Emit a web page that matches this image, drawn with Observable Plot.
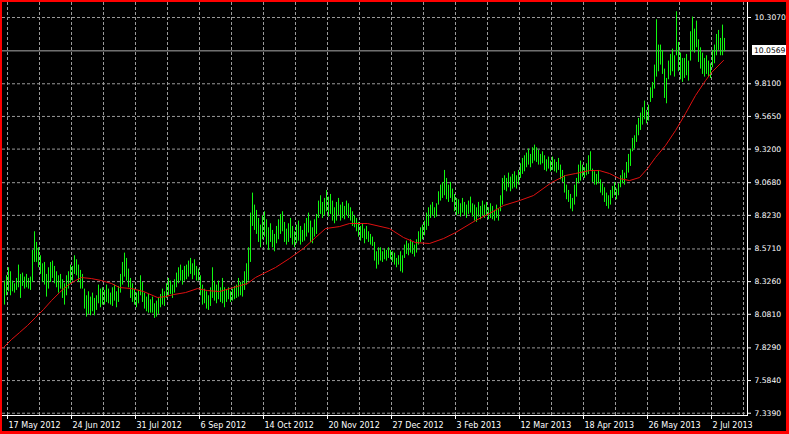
<!DOCTYPE html>
<html>
<head>
<meta charset="utf-8">
<script src="https://cdn.jsdelivr.net/npm/d3@7"></script>
<script src="https://cdn.jsdelivr.net/npm/@observablehq/plot@0.6"></script>
<style>
  html, body { margin: 0; padding: 0; background: #000; }
  #wrap { position: relative; width: 789px; height: 434px; overflow: hidden; background: #000; }
  #border { position: absolute; left: 0; top: 0; width: 789px; height: 434px; box-sizing: border-box;
            border-style: solid; border-color: #ff0000; border-width: 2px 3px 3px 2px; pointer-events: none; }
</style>
</head>
<body>
<div id="wrap"><div id="border"></div></div>
<script>
// ---- data (daily bars) ----
const highs = [
8.33,8.37,8.43,8.40,8.33,8.31,8.35,8.45,8.38,8.39,
8.36,8.38,8.35,8.36,8.56,8.70,8.62,8.58,8.52,8.46,
8.47,8.38,8.43,8.47,8.48,8.44,8.40,8.37,8.38,8.34,
8.31,8.37,8.40,8.45,8.44,8.52,8.49,8.45,8.41,8.38,
8.27,8.22,8.25,8.21,8.24,8.20,8.22,8.30,8.27,8.28,
8.26,8.30,8.27,8.24,8.28,8.30,8.25,8.29,8.38,8.47,
8.54,8.50,8.42,8.35,8.31,8.27,8.24,8.26,8.37,8.32,
8.24,8.21,8.23,8.19,8.21,8.16,8.18,8.20,8.23,8.27,
8.25,8.31,8.35,8.33,8.30,8.34,8.39,8.43,8.45,8.41,
8.44,8.45,8.48,8.50,8.46,8.49,8.44,8.42,8.37,8.30,
8.27,8.25,8.22,8.28,8.43,8.33,8.30,8.33,8.28,8.35,
8.28,8.26,8.28,8.25,8.27,8.29,8.30,8.35,8.32,8.33,
8.40,8.46,8.58,8.84,8.99,8.90,8.86,8.80,8.75,8.82,
8.85,8.79,8.73,8.76,8.71,8.68,8.74,8.79,8.83,8.85,
8.77,8.72,8.76,8.80,8.74,8.70,8.75,8.78,8.74,8.71,
8.76,8.80,8.84,8.78,8.73,8.79,8.83,8.93,8.97,8.92,
8.95,9.01,8.96,8.98,8.93,8.88,8.92,8.95,8.90,8.92,
8.89,8.93,8.91,8.88,8.85,8.82,8.80,8.77,8.74,8.76,
8.72,8.74,8.70,8.68,8.66,8.62,8.55,8.58,8.58,8.55,
8.57,8.56,8.58,8.56,8.55,8.54,8.50,8.52,8.55,8.52,
8.60,8.63,8.61,8.64,8.62,8.60,8.64,8.70,8.73,8.75,
8.78,8.84,8.88,8.90,8.92,8.88,8.91,9.00,9.05,9.07,
9.16,9.10,9.05,9.07,9.02,8.98,8.95,8.94,8.91,8.95,
8.92,8.90,8.93,8.96,8.91,8.90,8.88,8.92,8.89,8.93,
8.90,8.92,8.88,8.91,8.89,8.86,8.90,8.87,8.97,9.10,
9.12,9.10,9.14,9.11,9.13,9.15,9.12,9.16,9.21,9.25,
9.27,9.29,9.32,9.28,9.33,9.35,9.33,9.31,9.28,9.30,
9.27,9.24,9.26,9.23,9.26,9.24,9.22,9.25,9.20,9.16,
9.12,9.05,9.01,8.98,8.95,9.05,9.10,9.20,9.23,9.20,
9.18,9.21,9.27,9.30,9.17,9.15,9.13,9.16,9.09,9.06,
9.03,8.99,8.97,9.01,9.04,9.07,9.02,9.06,9.12,9.16,
9.14,9.22,9.28,9.32,9.40,9.42,9.50,9.55,9.59,9.63,
9.68,9.61,9.65,9.78,9.82,9.95,10.29,10.10,10.10,10.06,
9.92,9.85,9.98,10.03,10.07,10.02,10.35,10.12,10.04,10.00,
10.00,10.03,9.98,10.20,10.31,10.22,10.28,10.14,10.08,10.04,
10.00,10.02,9.98,9.96,10.06,10.10,10.18,10.21,10.15,10.25,
10.15];
const lows = [
8.15,8.22,8.25,8.22,8.25,8.24,8.26,8.28,8.20,8.29,
8.27,8.28,8.27,8.26,8.32,8.47,8.47,8.43,8.38,8.32,
8.30,8.21,8.27,8.32,8.35,8.31,8.28,8.24,8.27,8.20,
8.15,8.22,8.27,8.31,8.33,8.38,8.37,8.32,8.27,8.27,
8.12,8.06,8.08,8.07,8.10,8.07,8.11,8.16,8.13,8.15,
8.15,8.17,8.16,8.15,8.14,8.18,8.13,8.17,8.24,8.30,
8.36,8.33,8.28,8.20,8.17,8.15,8.13,8.16,8.22,8.17,
8.12,8.10,8.09,8.09,8.09,8.05,8.06,8.08,8.13,8.15,
8.14,8.20,8.22,8.23,8.20,8.24,8.28,8.31,8.33,8.30,
8.33,8.34,8.36,8.38,8.34,8.37,8.33,8.33,8.22,8.15,
8.16,8.12,8.11,8.14,8.20,8.18,8.16,8.19,8.17,8.16,
8.13,8.17,8.19,8.17,8.18,8.19,8.20,8.21,8.22,8.21,
8.26,8.30,8.33,8.47,8.74,8.71,8.68,8.62,8.58,8.64,
8.66,8.60,8.56,8.62,8.58,8.55,8.61,8.64,8.68,8.70,
8.62,8.60,8.62,8.65,8.60,8.58,8.61,8.63,8.60,8.62,
8.63,8.66,8.69,8.62,8.61,8.66,8.68,8.80,8.83,8.80,
8.82,8.85,8.81,8.83,8.78,8.76,8.78,8.82,8.78,8.80,
8.79,8.82,8.80,8.78,8.74,8.73,8.70,8.66,8.63,8.65,
8.61,8.64,8.62,8.60,8.59,8.48,8.42,8.45,8.48,8.47,
8.49,8.48,8.50,8.49,8.47,8.45,8.43,8.45,8.40,8.39,
8.50,8.53,8.52,8.54,8.53,8.51,8.54,8.60,8.62,8.64,
8.67,8.71,8.74,8.80,8.82,8.80,8.81,8.90,8.93,8.95,
8.97,8.94,8.92,8.95,8.92,8.85,8.82,8.83,8.81,8.84,
8.82,8.80,8.83,8.84,8.81,8.78,8.77,8.81,8.79,8.82,
8.80,8.82,8.79,8.80,8.79,8.78,8.80,8.78,8.85,8.90,
9.01,9.00,9.03,9.00,9.02,9.03,9.02,9.05,9.10,9.13,
9.15,9.18,9.20,9.18,9.21,9.23,9.22,9.20,9.20,9.21,
9.16,9.15,9.17,9.15,9.16,9.15,9.14,9.16,9.09,9.07,
8.99,8.94,8.92,8.87,8.85,8.90,8.96,9.06,9.08,9.11,
9.10,9.12,9.13,9.16,9.07,9.05,9.05,9.06,8.99,8.97,
8.92,8.89,8.87,8.90,8.95,8.97,8.94,8.97,9.03,9.06,
9.05,9.10,9.14,9.19,9.30,9.32,9.37,9.42,9.46,9.50,
9.54,9.51,9.53,9.67,9.70,9.77,9.86,9.90,9.95,9.88,
9.70,9.66,9.84,9.87,9.90,9.86,10.02,9.90,9.84,9.82,
9.85,9.87,9.83,9.98,10.05,10.04,10.08,9.97,9.92,9.88,
9.86,9.88,9.86,9.85,9.93,9.96,10.02,10.06,10.02,10.02,
10.05];

// moving average (red), read at selected bars
const maBars = [0,4,8,12,16,20,24,28,32,36,39,44,49,54,58,64,70,77,81,85,91,97,102,108,115,122,126,136,143,150,156,161,168,173,182,193,200,206,213,220,226,236,243,250,258,265,274,281,286,293,298,303,308,313,318,322,326,331,336,341,346,351,354,360];
const maValues = [7.832,7.892,7.944,7.997,8.057,8.117,8.184,8.244,8.297,8.334,8.357,8.349,8.334,8.312,8.282,8.274,8.252,8.207,8.214,8.229,8.244,8.274,8.259,8.252,8.282,8.312,8.357,8.432,8.500,8.575,8.657,8.724,8.739,8.762,8.762,8.724,8.657,8.619,8.612,8.649,8.694,8.784,8.837,8.897,8.934,8.972,9.069,9.122,9.137,9.159,9.159,9.137,9.099,9.084,9.107,9.174,9.257,9.347,9.459,9.587,9.722,9.834,9.894,9.985];

const priceTicks = [7.339,7.584,7.829,8.081,8.326,8.571,8.823,9.068,9.320,9.565,9.810,10.307];
const dateLabels = ["17 May 2012","24 Jun 2012","31 Jul 2012","6 Sep 2012","14 Oct 2012","20 Nov 2012","27 Dec 2012","3 Feb 2013","12 Mar 2013","18 Apr 2013","26 May 2013","2 Jul 2013"];
const dateLabelBars = [2,34,66,98,130,162,194,226,258,290,322,354];
const currentPrice = 10.0569;

// ---- build ----
const bars = d3.range(highs.length).map(i => ({i, hi: highs[i], lo: lows[i]}));
const ma = maBars.map((i, j) => ({i, v: maValues[j]}));
const vGrid = d3.range(2, 372, 16);

const GREEN = "#10f810", RED = "#e01010", GRID = "#9a9a9a";

const chart = Plot.plot({
  width: 789, height: 434,
  marginLeft: 2, marginRight: 42, marginTop: 2, marginBottom: 19,
  style: {background: "black", color: "white", fontFamily: "'DejaVu Sans', sans-serif", fontSize: "8px"},
  x: {domain: [-0.5, 372], range: [2, 747], axis: "bottom", ticks: dateLabelBars,
      tickFormat: i => dateLabels[dateLabelBars.indexOf(i)], tickSize: 4, tickPadding: 3, line: true, label: null},
  y: {domain: [7.3295, 10.4195], range: [414, 2], axis: "right", ticks: priceTicks,
      tickFormat: d3.format(".4f"), tickSize: 3, tickPadding: 4, line: true, label: null},
  marks: [
    Plot.ruleY(priceTicks, {stroke: GRID, strokeDasharray: "3,2"}),
    Plot.ruleX(vGrid, {stroke: GRID, strokeDasharray: "3,2"}),
    Plot.ruleY([currentPrice], {stroke: "#aaaaaa"}),
    Plot.ruleX(bars, {x: "i", y1: "lo", y2: "hi", stroke: GREEN, strokeWidth: 1, dx: 1}),
    Plot.line(ma, {x: "i", y: "v", stroke: RED, strokeWidth: 1})
  ]
});

document.getElementById("wrap").insertBefore(chart, document.getElementById("border"));

const svg = d3.select(chart);

// left-align the date labels at their tick
svg.selectAll('g[aria-label^="x-axis"] text').attr("text-anchor", "start").attr("dx", 1);
// slightly narrower price labels
svg.selectAll('g[aria-label^="y-axis"] text').style("font-size", "7.6px");

// current price label box
const yp = chart.scale("y").apply(currentPrice);
svg.append("rect").attr("x", 752).attr("y", Math.round(yp) - 5).attr("width", 35).attr("height", 10).attr("fill", "white");
svg.append("text").attr("x", 754).attr("y", yp).attr("dy", "0.32em").attr("fill", "black")
   .attr("text-anchor", "start")
   .style("font", "7.6px 'DejaVu Sans', sans-serif").text(currentPrice.toFixed(4));
</script>
</body>
</html>
